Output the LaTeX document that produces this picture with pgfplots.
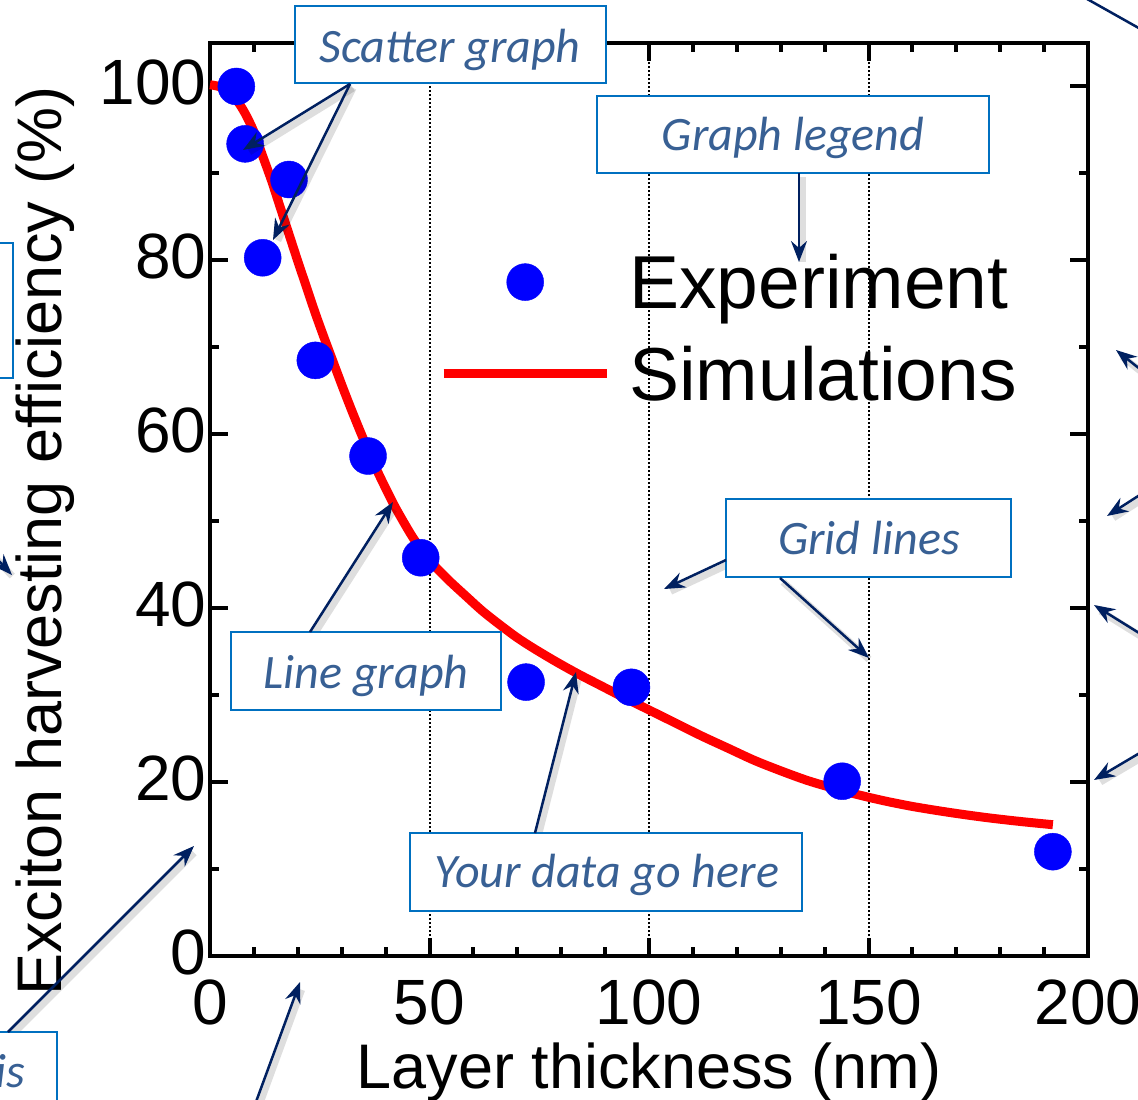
\documentclass[border=0pt]{standalone}
\usepackage{fontspec}
\setmainfont{Liberation Sans}
\newfontfamily\calibri{Carlito}
\usepackage{pgfplots}
\pgfplotsset{compat=1.18}
\usetikzlibrary{arrows.meta}
\definecolor{navy}{RGB}{0,32,96}
\definecolor{boxblue}{RGB}{0,112,192}
\definecolor{txtblue}{RGB}{56,96,148}
\begin{document}
\begin{tikzpicture}[x=1pt,y=1pt,
  annbox/.style={draw=boxblue, line width=2pt, fill=white},
  anntext/.style={text=txtblue, font=\calibri\itshape\fontsize{48}{48}\selectfont, inner sep=0pt, anchor=base},
  arr/.style={draw=navy, line width=2.5pt, -{Stealth[length=21pt,width=16pt,inset=7pt]}},
  shd/.style={draw=black, opacity=0.13, line width=7pt, shorten >=4pt, transform canvas={shift={(3pt,-4pt)}}}]
\useasboundingbox (0,0) rectangle (1138,-1100);
\begin{axis}[
  at={(210pt,-956pt)}, anchor=south west,
  scale only axis, width=878pt, height=913pt,
  xmin=0, xmax=200, ymin=0, ymax=105,
  xtick={0,50,...,200}, minor xtick={10,20,...,190},
  ytick={0,20,...,100}, minor ytick={10,30,...,90},
  tick align=inside, major tick length=18pt, minor tick length=9pt,
  major tick style={black, line width=4pt},
  minor tick style={black, line width=4pt},
  axis line style={black, line width=4pt},
  xmajorgrids, major x grid style={black, line width=2pt, dash pattern=on 2pt off 2pt},
  /pgf/number format/assume math mode=true,
  tick label style={font=\fontsize{64}{64}\selectfont},
  xticklabel style={yshift=-20pt},
  yticklabel style={yshift=4pt},
  xlabel={Layer thickness (nm)},
  ylabel={Exciton harvesting efficiency (\%)},
  xlabel style={at={(rel axis cs:0.5,-0.1446)}, anchor=base, font=\fontsize{63}{63}\selectfont},
  ylabel style={at={(rel axis cs:-0.1686,0.4545)}, anchor=base, font=\fontsize{63}{63}\selectfont},
  legend style={at={(rel axis cs:0.2574,0.7733)}, anchor=north west, draw=none, fill=none,
    font=\fontsize{75}{75}\selectfont, row sep=32pt, column sep=16pt},
  legend cell align=left,
  clip=false,
]
\addplot[only marks, mark=*, mark size=18.5pt, blue, mark options={fill=blue, draw=blue},
  legend image code/.code={\path[draw=none,fill=none] (0pt,0pt) -- (163pt,0pt); \fill[blue] (81.5pt,0pt) circle (18.5pt);}]
  coordinates {(6,100) (8,93.4) (12,80.3) (18,89.3) (24,68.5) (36,57.5) (48,45.8) (72,31.5) (96,30.9) (144,20.1) (192,12.0)};
\addlegendentry{Experiment}
\addplot[red, line width=9pt, smooth, mark=none,
  legend image code/.code={\draw[red, line width=9pt] (0pt,0pt) -- (163pt,0pt);}]
  coordinates {(0,100.2) (2,100.0) (4,99.5) (6,98.5) (8,96.9) (10,94.8) (12,92.0) (14,89.2) (16,86.1) (18,83.0) (20,79.9) (22,76.9) (24,73.9) (26,71.1) (28,68.4) (30,65.7) (32,63.1) (34,60.6) (36,58.2) (38,55.9) (40,53.8) (42,51.8) (44,50.0) (46,48.3) (48,46.8) (50,45.5) (54,43.4) (58.5,41.3) (62,39.7) (66,38.1) (70,36.6) (74,35.3) (79,33.8) (84,32.4) (89,31.1) (94,29.8) (100,28.3) (106,26.8) (112,25.3) (118,23.9) (124,22.5) (130,21.3) (136,20.2) (142,19.3) (148,18.5) (154,17.8) (160,17.2) (166,16.7) (172,16.25) (178,15.85) (185,15.45) (192,15.1)};
\addlegendentry{Simulations}
\end{axis}
% arrow shadows
\foreach \a/\b in {{(350,-84)}/{(243,-150)}, {(350,-84)}/{(273,-240)}, {(799,-173)}/{(799,-262)}, {(-30,-530)}/{(12,-575)}, {(310,-632)}/{(393,-502)}, {(726,-560)}/{(664,-589)}, {(780,-578)}/{(869,-658)}, {(535,-833)}/{(576,-672)}, {(8,-1032)}/{(194,-846)}, {(253,-1110)}/{(300,-982)}, {(1160,-385)}/{(1116,-350)}, {(1160,-482)}/{(1107,-516)}, {(1160,-646)}/{(1094,-605)}, {(1160,-741)}/{(1094,-780)}}
  {\draw[shd] \a -- \b;}
% annotation boxes
\draw[annbox] (295,-6) rectangle (606,-83);
\node[anntext] at (450,-62) {Scatter graph};
\draw[annbox] (597,-96) rectangle (989,-173);
\node[anntext] at (793,-150) {Graph legend};
\draw[annbox] (-300,-243) rectangle (13,-378);
\draw[annbox] (231,-632) rectangle (501,-710);
\node[anntext] at (366,-688) {Line graph};
\draw[annbox] (726,-499) rectangle (1011,-577);
\node[anntext] at (869,-554) {Grid lines};
\draw[annbox] (410,-833) rectangle (802,-911);
\node[anntext] at (607,-887) {Your data go here};
\draw[annbox] (-300,-1032) rectangle (57,-1110);
\node[anntext, anchor=base east] at (25,-1087) {Y axis};
% arrows
\draw[arr] (350,-84) -- (243,-150);
\draw[arr] (350,-84) -- (273,-240);
\draw[arr] (799,-173) -- (799,-262);
\draw[arr] (-30,-530) -- (12,-575);
\draw[arr] (310,-632) -- (393,-502);
\draw[arr] (726,-560) -- (664,-589);
\draw[arr] (780,-578) -- (869,-658);
\draw[arr] (535,-833) -- (576,-672);
\draw[arr] (8,-1032) -- (194,-846);
\draw[arr] (253,-1110) -- (300,-982);
\draw[navy, line width=2.5pt] (1080,5) -- (1160,-40);
\draw[arr] (1160,-385) -- (1116,-350);
\draw[arr] (1160,-482) -- (1107,-516);
\draw[arr] (1160,-646) -- (1094,-605);
\draw[arr] (1160,-741) -- (1094,-780);
\end{tikzpicture}
\end{document}
